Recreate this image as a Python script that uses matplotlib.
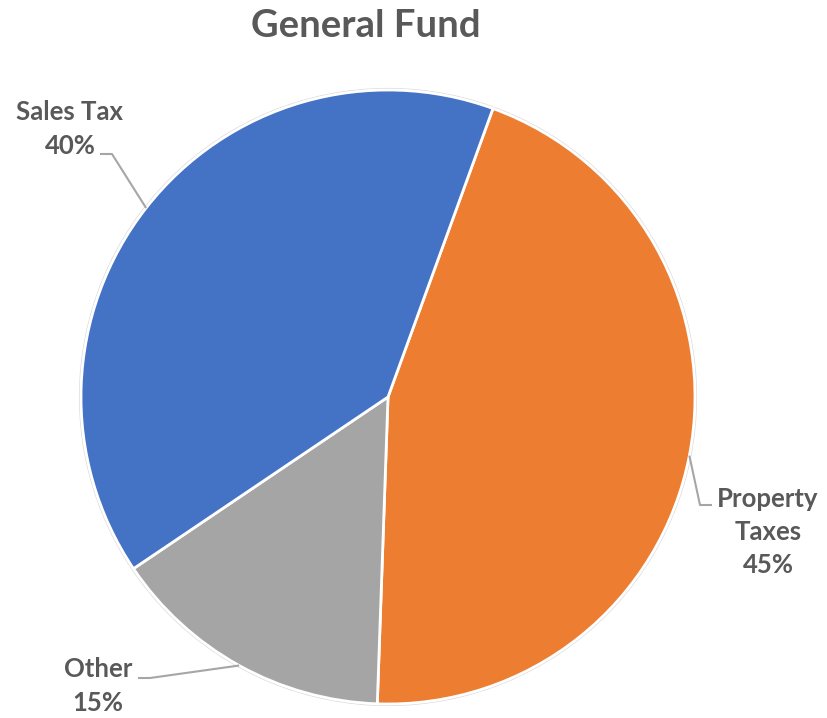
import numpy as np
import matplotlib
matplotlib.use("Agg")
import matplotlib.pyplot as plt
from matplotlib.patches import Circle

# Data
categories = ["Property Taxes", "Other", "Sales Tax"]
values = [45, 15, 40]
label_texts = ["Property\nTaxes\n45%", "Other\n15%", "Sales Tax\n40%"]
colors = ["#ED7D31", "#A5A5A5", "#4472C4"]

W, H = 827, 718
plt.rcParams['font.family'] = ['Lato', 'DejaVu Sans']
fig = plt.figure(figsize=(W / 100, H / 100), dpi=100)
ax = fig.add_axes([0, 0, 1, 1])
ax.set_xlim(0, W)
ax.set_ylim(0, H)
ax.set_aspect('equal')
ax.axis('off')

cx, cy, R = 388, H - 397, 307

ax.add_patch(Circle((cx, cy), R + 1.5, facecolor='none', edgecolor='#DADADA', lw=0.8, zorder=0))
wedges, _ = ax.pie(values, colors=colors, startangle=70, counterclock=False,
                   center=(cx, cy), radius=R, frame=True,
                   wedgeprops=dict(edgecolor='white', linewidth=2))
ax.set_xlim(0, W)
ax.set_ylim(0, H)
ax.axis('off')

txt_color = '#595959'
line_color = '#A6A6A6'

# label layout
layout = {
    "Property Taxes": dict(tx=768, ty=532, elbow=(700, 505), end=712),
    "Other": dict(tx=98, ty=686, elbow=(150, 678), end=138),
    "Sales Tax": dict(tx=70, ty=129, elbow=(112, 154), end=100),
}

for w, cat, lab in zip(wedges, categories, label_texts):
    L = layout[cat]
    mid = np.deg2rad((w.theta1 + w.theta2) / 2)
    px_, py_ = cx + R * np.cos(mid), cy + R * np.sin(mid)
    ex, ey = L['elbow']
    ax.plot([px_, ex, L['end']], [py_, H - ey, H - ey], color=line_color, lw=1.5,
            solid_capstyle='butt', zorder=3)
    ax.text(L['tx'], H - L['ty'], lab, ha='center', va='center', color=txt_color,
            fontsize=18.5, fontweight='bold', linespacing=1.47, zorder=4)

ax.text(366, H - 26, "General Fund", ha='center', va='center', color=txt_color,
        fontsize=27.5, fontweight='bold')

fig.savefig("out.png", dpi=100)
